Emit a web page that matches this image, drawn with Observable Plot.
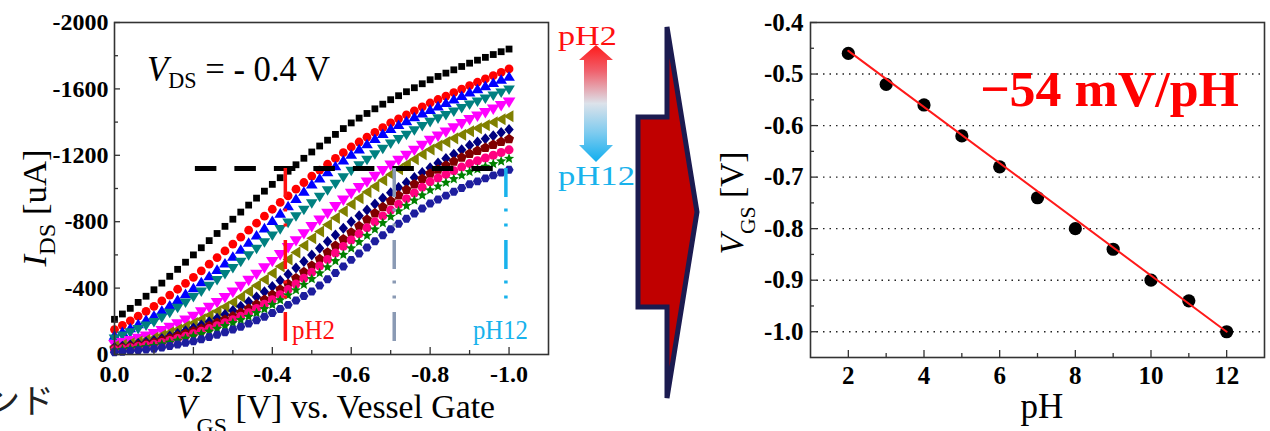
<!DOCTYPE html>
<html><head><meta charset="utf-8">
<script src="https://cdn.jsdelivr.net/npm/d3@7"></script>
<script src="https://cdn.jsdelivr.net/npm/@observablehq/plot@0.6"></script>
<style>
html,body{margin:0;padding:0;background:#fff;}
#fig{position:relative;width:1270px;height:431px;overflow:hidden;background:#fff;}
#fig > svg{position:absolute;top:0;margin:0;}
#ov text{font-family:"Liberation Serif","DejaVu Serif",serif;white-space:pre;}
#ov text.cjk{font-family:"Noto Sans CJK JP",sans-serif;}
</style></head><body><div id="fig"></div>
<script>
const SERIF = "'Liberation Serif','DejaVu Serif',serif";

// ---------------- data: left panel (transfer curves) ----------------
const V_GS = [0,-0.02,-0.04,-0.06,-0.08,-0.1,-0.12,-0.14,-0.16,-0.18,-0.2,-0.22,-0.24,-0.26,-0.28,-0.3,-0.32,-0.34,-0.36,-0.38,-0.4,-0.42,-0.44,-0.46,-0.48,-0.5,-0.52,-0.54,-0.56,-0.58,-0.6,-0.62,-0.64,-0.66,-0.68,-0.7,-0.72,-0.74,-0.76,-0.78,-0.8,-0.82,-0.84,-0.86,-0.88,-0.9,-0.92,-0.94,-0.96,-0.98,-1.0];
// |I_DS| in uA (plotted as negative values)
const I_pH2  = [212,244,278,314,351,390,430,471,513,556,600,643,686,729,772,815,858,900,942,984,1025,1065,1104,1143,1182,1220,1256,1291,1326,1361,1395,1424,1452,1480,1508,1535,1559,1583,1607,1631,1655,1675,1695,1715,1735,1755,1773,1790,1807,1824,1840];
const I_pH3  = [150,176,203,231,260,290,323,358,393,429,465,504,544,584,624,665,707,749,791,833,875,916,956,996,1036,1075,1111,1146,1181,1216,1250,1280,1309,1338,1367,1395,1420,1444,1468,1492,1515,1536,1557,1578,1599,1620,1640,1660,1680,1700,1720];
const I_pH4  = [115,137,160,184,209,235,265,297,330,365,400,436,473,511,550,590,632,675,718,761,805,850,894,938,982,1025,1062,1099,1135,1170,1205,1237,1268,1299,1330,1360,1384,1407,1430,1453,1475,1496,1517,1538,1559,1580,1599,1618,1637,1656,1675];
const I_pH5  = [95,113,132,152,173,195,222,250,280,312,345,378,412,447,483,520,558,597,636,675,715,754,793,832,871,910,949,988,1027,1066,1105,1139,1172,1205,1238,1270,1297,1323,1349,1375,1400,1421,1442,1463,1484,1505,1523,1541,1559,1577,1595];
const I_pH6  = [60,71,84,97,111,125,144,164,185,207,230,256,284,313,343,375,410,446,483,521,560,601,643,685,727,770,810,850,890,930,970,1005,1039,1073,1107,1140,1170,1200,1230,1260,1290,1315,1340,1365,1390,1415,1436,1457,1478,1499,1520];
const I_pH7  = [50,58,68,78,89,100,116,133,151,170,190,212,236,261,287,315,347,380,415,452,490,531,573,615,657,700,741,782,823,864,905,942,979,1014,1050,1085,1116,1146,1176,1206,1235,1258,1280,1302,1324,1345,1363,1381,1399,1417,1435];
const I_pH8  = [42,49,57,66,75,84,97,111,127,143,160,178,198,219,241,265,291,318,347,378,410,446,483,521,560,600,640,680,720,760,800,836,871,906,941,975,1006,1036,1066,1096,1125,1153,1180,1207,1234,1260,1280,1299,1318,1337,1355];
const I_pH9  = [34,40,47,55,63,72,84,97,111,125,140,155,172,191,210,230,252,276,302,330,360,392,425,460,497,535,575,615,655,695,735,774,813,851,888,925,959,993,1026,1058,1090,1115,1139,1163,1187,1210,1228,1246,1264,1281,1298];
const I_pH10 = [28,34,41,48,55,62,73,85,97,110,125,140,156,173,191,210,230,252,277,303,330,360,391,424,459,495,533,572,611,651,690,727,763,799,835,870,905,939,973,1007,1040,1063,1085,1107,1129,1150,1167,1184,1200,1217,1233];
const I_pH11 = [24,29,35,41,46,52,62,73,84,97,110,124,139,155,172,190,208,228,250,274,300,328,357,388,421,455,490,526,563,601,640,678,716,754,792,830,863,896,928,959,990,1013,1035,1057,1079,1100,1116,1132,1148,1164,1180];
const I_pH12 = [14,17,21,25,30,35,42,51,60,70,80,92,105,119,134,150,167,186,206,227,250,274,299,325,352,380,416,453,491,530,570,608,645,682,719,755,787,818,849,880,910,934,957,980,1003,1025,1043,1061,1079,1096,1113];
const seriesI = [I_pH2,I_pH3,I_pH4,I_pH5,I_pH6,I_pH7,I_pH8,I_pH9,I_pH10,I_pH11,I_pH12];

const levelI = -1120;              // constant-current read level
const levelV = [-0.205, -0.96];    // extent of dashed level line
const markV = [-0.433, -0.709, -0.992];
const markIEnd = [-72, -72, -325];

const xTicksL = [0,-0.2,-0.4,-0.6,-0.8,-1.0];
const xMinorL = [-0.1,-0.3,-0.5,-0.7,-0.9];
const yTicksL = [0,-400,-800,-1200,-1600,-2000];
const yMinorL = [-200,-600,-1000,-1400,-1800];

// ---------------- data: right panel ----------------
const pH = [2,3,4,5,6,7,8,9,10,11,12];
const vgsAtLevel = [-0.46,-0.52,-0.56,-0.62,-0.68,-0.74,-0.80,-0.84,-0.90,-0.94,-1.00];
const fitPH = [2, 12];
const fitVGS = [-0.455, -1.0];
const xTicksR = [2,4,6,8,10,12];
const xMinorR = [3,5,7,9,11];
const yTicksR = [-0.4,-0.5,-0.6,-0.7,-0.8,-0.9,-1.0];
const yMinorR = [-0.45,-0.55,-0.65,-0.75,-0.85,-0.95];
const gridR = [-0.5,-0.6,-0.7,-0.8,-0.9,-1.0];

// ---------------- styles ----------------
function rad(s){ return Math.sqrt(s/Math.PI); }
function poly(c, pts){ c.moveTo(pts[0][0],pts[0][1]); for (let i=1;i<pts.length;i++) c.lineTo(pts[i][0],pts[i][1]); c.closePath(); }
const SQ = {draw(c,s){const h=rad(s)*0.85; poly(c,[[-h,-h],[h,-h],[h,h],[-h,h]]);}};
const CIRC = {draw(c,s){const r=rad(s); c.moveTo(r,0); c.arc(0,0,r,0,2*Math.PI);}};
const TRI_UP = {draw(c,s){const r=rad(s); poly(c,[[0,-r],[r*1.1,r*0.8],[-r*1.1,r*0.8]]);}};
const TRI_DN = {draw(c,s){const r=rad(s); poly(c,[[0,r],[r*1.1,-r*0.8],[-r*1.1,-r*0.8]]);}};
const TRI_LF = {draw(c,s){const r=rad(s); poly(c,[[-r,0],[r*0.8,-r*1.1],[r*0.8,r*1.1]]);}};
const DIAM = {draw(c,s){const r=rad(s); poly(c,[[0,-r],[r*0.85,0],[0,r],[-r*0.85,0]]);}};
const PENT = {draw(c,s){const r=rad(s)*1.05; const p=[]; for(let k=0;k<5;k++){const a=-Math.PI/2+k*2*Math.PI/5; p.push([r*Math.cos(a), r*Math.sin(a)]);} poly(c,p);}};
const STAR = {draw(c,s){const r=rad(s); const p=[]; for(let k=0;k<10;k++){const a=-Math.PI/2+k*Math.PI/5; const rr=k%2?r*0.45:r; p.push([rr*Math.cos(a), rr*Math.sin(a)]);} poly(c,p);}};
const HEX = {draw(c,s){const r=rad(s); const p=[]; for(let k=0;k<6;k++){const a=k*Math.PI/3; p.push([r*Math.cos(a), r*Math.sin(a)]);} poly(c,p);}};

const COL = ["#000000","#FF0000","#0000FF","#008080","#FF00FF","#808000","#000080","#800000","#FF0080","#008000","#1E1E9E"];
const SYM = [SQ, CIRC, TRI_UP, TRI_DN, TRI_DN, TRI_LF, DIAM, PENT, CIRC, STAR, HEX];
const R   = [4.0, 4.4, 5.3, 5.3, 5.8, 5.5, 5.5, 5.0, 4.5, 5.4, 4.6];
const MARK_COL = ["#FF1010", "#8A9AB4", "#18B2EC"];

const fig = document.getElementById("fig");

// ---------------- left chart ----------------
const LW = 560, LH = 431, LML = 114, LMR = 12, LMT = 22, LMB = 77;
const lpw = LW - LML - LMR, lph = LH - LMT - LMB;
const leftMarks = [];
seriesI.forEach((vals, i) => {
  const rows = V_GS.map((v, j) => ({V: v, I: -vals[j]}));
  leftMarks.push(Plot.dot(rows, {x: "V", y: "I", symbol: SYM[i], r: R[i], fill: COL[i], stroke: "none"}));
});
leftMarks.push(Plot.ruleY([levelI], {y: d => d, x1: levelV[0], x2: levelV[1], stroke: "#000", strokeWidth: 5, strokeDasharray: "21.5,18"}));
markV.forEach((v, i) => {
  leftMarks.push(Plot.ruleX([{v, y1: levelI, y2: markIEnd[i]}], {x: "v", y1: "y1", y2: "y2", stroke: MARK_COL[i], strokeWidth: 3.5, strokeDasharray: "29,11.5,3,12,3,13.5"}));
});
leftMarks.push(
  Plot.tickY(yTicksL, {y: d => d, insetRight: lpw - 6, stroke: "#333", strokeWidth: 1.3}),
  Plot.tickY(yMinorL, {y: d => d, insetRight: lpw - 4, stroke: "#333", strokeWidth: 1.3}),
  Plot.tickX(xTicksL, {x: d => d, insetTop: lph - 7, stroke: "#333", strokeWidth: 1.3}),
  Plot.tickX(xMinorL, {x: d => d, insetTop: lph - 4, stroke: "#333", strokeWidth: 1.3}),
  Plot.axisX({ticks: xTicksL, tickFormat: d => d.toFixed(1), tickSize: 0, tickPadding: 10, label: null}),
  Plot.axisY({ticks: yTicksL, tickFormat: d => d === 0 ? "0" : String(d), tickSize: 0, tickPadding: 6, label: null}),
  Plot.frame({stroke: "#333", strokeWidth: 1.6})
);
const left = Plot.plot({
  width: LW, height: LH, marginLeft: LML, marginRight: LMR, marginTop: LMT, marginBottom: LMB,
  x: {domain: [0, -1.1], label: null},
  y: {domain: [0, -2000], label: null},
  style: {fontFamily: SERIF, fontSize: "24px", fontWeight: "bold", color: "#000", background: "transparent", overflow: "visible"},
  marks: leftMarks
});
left.style.left = "0px";
fig.appendChild(left);

// ---------------- right chart ----------------
const RW = 570, RH = 431, RML = 110, RMR = 6, RMT = 22, RMB = 74;
const rpw = RW - RML - RMR, rph = RH - RMT - RMB;
const right = Plot.plot({
  width: RW, height: RH, marginLeft: RML, marginRight: RMR, marginTop: RMT, marginBottom: RMB,
  x: {domain: [1, 13], label: null},
  y: {domain: [-1.05, -0.4], label: null},
  style: {fontFamily: SERIF, fontSize: "25px", fontWeight: "bold", color: "#000", background: "transparent", overflow: "visible"},
  marks: [
    Plot.ruleY(gridR, {y: d => d, stroke: "#222", strokeWidth: 1.4, strokeDasharray: "1.5,5"}),
    Plot.dot(pH.map((p, i) => ({pH: p, v: vgsAtLevel[i]})), {x: "pH", y: "v", r: 6.6, fill: "#000", stroke: "none"}),
    Plot.line(fitPH.map((p, i) => ({pH: p, v: fitVGS[i]})), {x: "pH", y: "v", stroke: "#FF1A1A", strokeWidth: 2}),
    Plot.tickY(yTicksR, {y: d => d, insetRight: rpw - 7, stroke: "#333", strokeWidth: 1.3}),
    Plot.tickY(yMinorR, {y: d => d, insetRight: rpw - 4, stroke: "#333", strokeWidth: 1.3}),
    Plot.tickX(xTicksR, {x: d => d, insetTop: rph - 7, stroke: "#333", strokeWidth: 1.3}),
    Plot.tickX(xMinorR, {x: d => d, insetTop: rph - 4, stroke: "#333", strokeWidth: 1.3}),
    Plot.axisX({ticks: xTicksR, tickFormat: d => String(d), tickSize: 0, tickPadding: 9, label: null}),
    Plot.axisY({ticks: yTicksR, tickFormat: d => d.toFixed(1), tickSize: 0, tickPadding: 7, label: null}),
    Plot.frame({stroke: "#333", strokeWidth: 1.6})
  ]
});
right.style.left = "700px";
fig.appendChild(right);

// ---------------- overlay: titles, labels, arrows ----------------
const ov = d3.create("svg").attr("id", "ov").attr("width", 1270).attr("height", 431)
  .style("position", "absolute").style("left", "0px").style("top", "0px")
  .style("pointer-events", "none");

function addText({x, y, parts, size, fill = "#000", anchor = "start", rotate = 0, weight = "normal", cls = null, len}) {
  const t = ov.append("text").style("font-size", size + "px")
    .attr("fill", fill).style("font-weight", weight).attr("text-anchor", anchor);
  if (cls) t.attr("class", cls);
  if (rotate) t.attr("transform", `translate(${x},${y}) rotate(${rotate})`);
  else t.attr("x", x).attr("y", y);
  for (const p of parts) {
    const ts = t.append("tspan").text(p.t);
    if (p.italic) ts.style("font-style", "italic");
    if (p.size) ts.style("font-size", p.size + "px");
    if (p.dy) ts.attr("dy", p.dy);
  }
  if (len) t.attr("textLength", len).attr("lengthAdjust", "spacingAndGlyphs");
  return t;
}

// gradient double arrow
const defs = ov.append("defs");
const g = defs.append("linearGradient").attr("id", "phgrad").attr("x1", 0).attr("y1", 0).attr("x2", 0).attr("y2", 1);
[["0%","#FF1A1A"],["22%","#F0606C"],["50%","#DCE2EA"],["75%","#7ECBEF"],["100%","#10AEEF"]]
  .forEach(([o, c]) => g.append("stop").attr("offset", o).attr("stop-color", c));
ov.append("polygon")
  .attr("points", "596,45 613,60 607,60 607,145 613,145 596,162 579,145 584,145 584,60 579,60")
  .attr("fill", "url(#phgrad)");

// big block arrow
ov.append("polygon")
  .attr("points", "667,27 697,212 667,398 667,307 638,307 638,117 667,117")
  .attr("fill", "#C00000").attr("stroke", "#1B1B50").attr("stroke-width", 5).attr("stroke-linejoin", "miter");

// left chart labels
addText({x: 147, y: 81, size: 36, len: 183, parts: [{t: "V", italic: true}, {t: "DS", size: 23, dy: 7}, {t: " = - 0.4 V", dy: -7}]});
addText({x: 46, y: 208, size: 34, anchor: "middle", rotate: -90, len: 117, parts: [{t: "I", italic: true}, {t: "DS", size: 24, dy: 9}, {t: " [uA]", dy: -9}]});
addText({x: 176, y: 418, size: 34, len: 319, parts: [{t: "V", italic: true}, {t: "GS", size: 24, dy: 16}, {t: " [V] vs. Vessel Gate", dy: -16}]});
addText({x: 292, y: 339, size: 28, len: 43, fill: "#FF1010", parts: [{t: "pH2"}]});
addText({x: 473, y: 339, size: 28, len: 55, fill: "#18B2EC", parts: [{t: "pH12"}]});

// middle labels
addText({x: 558, y: 45, size: 28, len: 59, fill: "#FF1010", parts: [{t: "pH2"}]});
addText({x: 558, y: 185, size: 28, len: 77, fill: "#18B2EC", parts: [{t: "pH12"}]});

// right chart labels
addText({x: 980, y: 106, size: 51, len: 259, weight: "bold", fill: "#FF0000", parts: [{t: "\u221254 mV/pH"}]});
addText({x: 743, y: 203, size: 34, anchor: "middle", rotate: -90, len: 103, parts: [{t: "V", italic: true}, {t: "GS", size: 22, dy: 12}, {t: " [V]", dy: -12}]});
addText({x: 1042, y: 418, size: 35, anchor: "middle", parts: [{t: "pH"}]});

// cropped fragment of neighbouring text
addText({x: -14, y: 413, size: 34, cls: "cjk", fill: "#222", parts: [{t: "ンド"}]});

fig.appendChild(ov.node());
</script></body></html>
